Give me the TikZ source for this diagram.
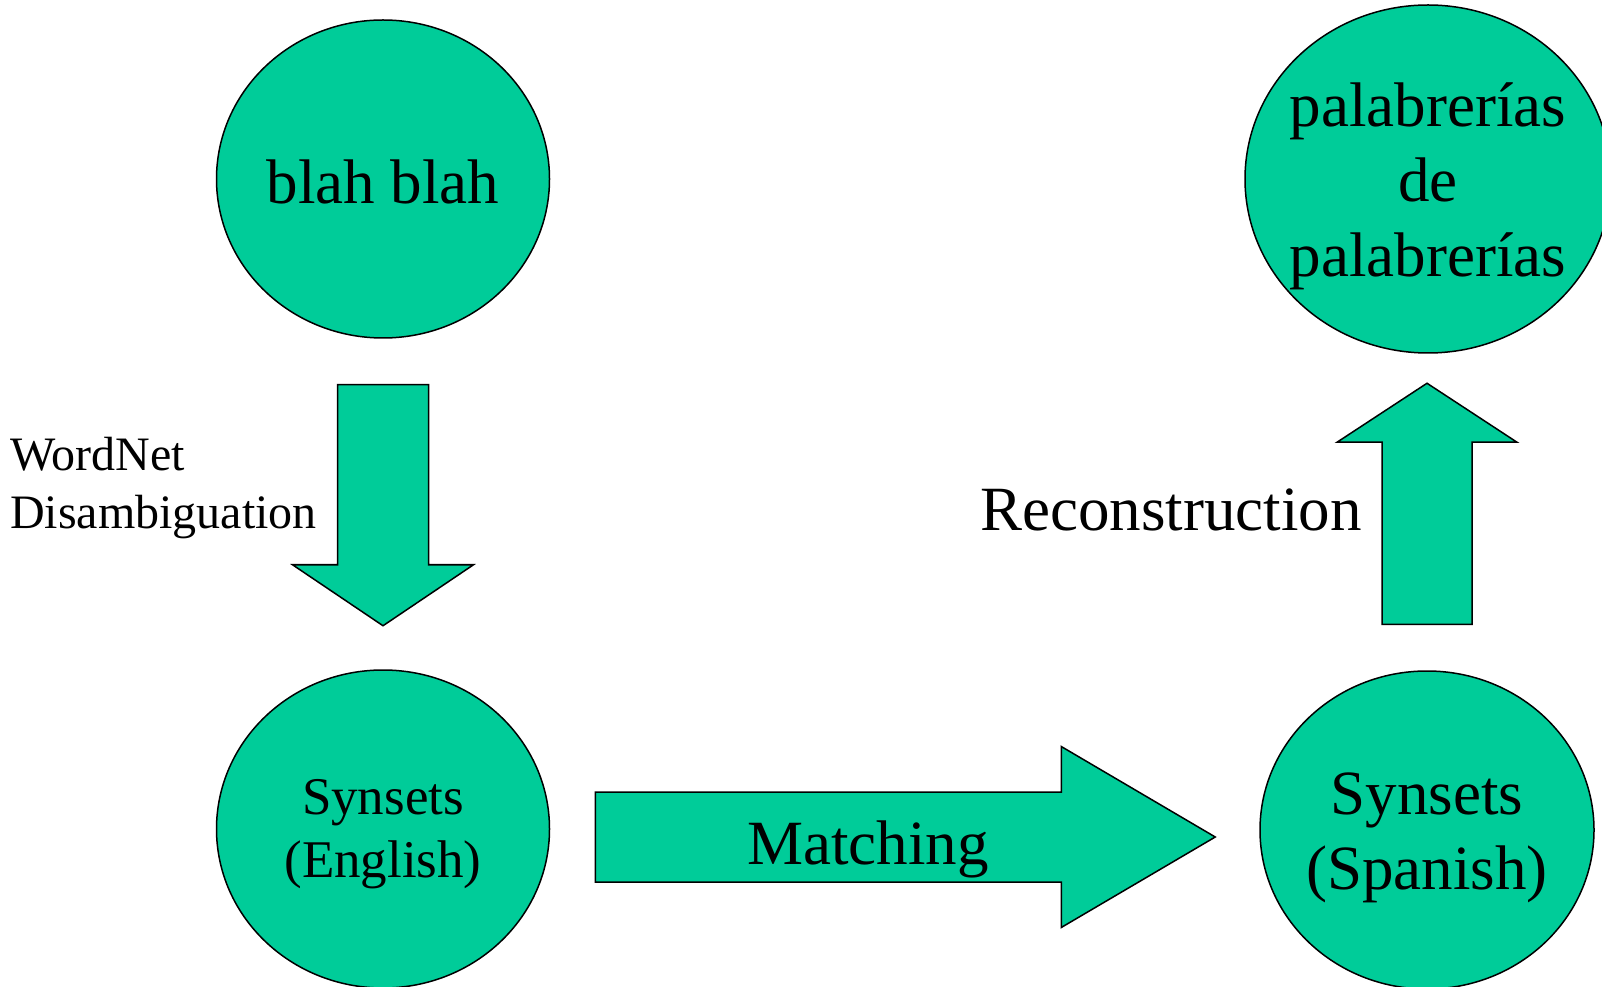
\documentclass[tikz,border=0pt]{standalone}
\usepackage{fontspec}
\setmainfont{Liberation Serif}
\usepackage{tikz}
\usetikzlibrary{shapes,arrows,positioning}

\definecolor{synsetgreen}{RGB}{0,204,153}

\begin{document}
\begin{tikzpicture}[
    x=1pt, y=1pt,
    bubble/.style={ellipse, draw, fill=synsetgreen, line width=1.5pt, inner sep=0pt, align=center, font=\fontsize{63}{75}\selectfont},
    blockarrow/.style={draw, fill=synsetgreen, line width=1.5pt, line join=miter},
    caption/.style={inner sep=0pt, font=\fontsize{63}{75}\selectfont}
]
\useasboundingbox (0,0) rectangle (1602,986);

\node (blah) [bubble, minimum width=333, minimum height=318] at (383,807) {\rule{0pt}{50pt}blah blah};
\node (english) [bubble, minimum width=333, minimum height=318, font=\fontsize{53}{63}\selectfont] at (383,157) {\rule{0pt}{46pt}Synsets\\(English)};
\node (palabras) [bubble, minimum width=366, minimum height=348, inner xsep=-10pt] at (1428,807) {\rule{0pt}{58pt}palabrer\'{\i}as\\de\\palabrer\'{\i}as};
\node (spanish) [bubble, minimum width=334, minimum height=318, inner xsep=-4pt] at (1427,156) {\rule{0pt}{57pt}Synsets\\(Spanish)};

% blah blah -> Synsets (English)
\draw [blockarrow] ([yshift=-46pt]blah.south) ++(-45.5,0) -- ++(0,-180) -- ++(-45,0) -- ++(90.5,-61) -- ++(90.5,61) -- ++(-45,0) -- ++(0,180) -- cycle;
% Synsets (English) -> Synsets (Spanish)
\draw [blockarrow] ([xshift=45pt,yshift=-8pt]english.east) ++(0,45) -- ++(466,0) -- ++(0,45.5) -- ++(154,-90.5) -- ++(-154,-90.5) -- ++(0,45.5) -- ++(-466,0) -- cycle;
% Synsets (Spanish) -> palabrerias
\draw [blockarrow] ([yshift=46pt]spanish.north) ++(-45,0) -- ++(0,182) -- ++(-45,0) -- ++(90,59) -- ++(90,-59) -- ++(-45,0) -- ++(0,-182) -- cycle;

\node (match) [caption, anchor=base] at (868,122) {Matching};
\node (recon) [caption, anchor=base] at (1171,455) {Reconstruction};
\node (disamb) [inner sep=0pt, anchor=north west, align=left, font=\fontsize{48}{58}\selectfont] at (10,549) {WordNet\\Disambiguation};

\end{tikzpicture}
\end{document}
